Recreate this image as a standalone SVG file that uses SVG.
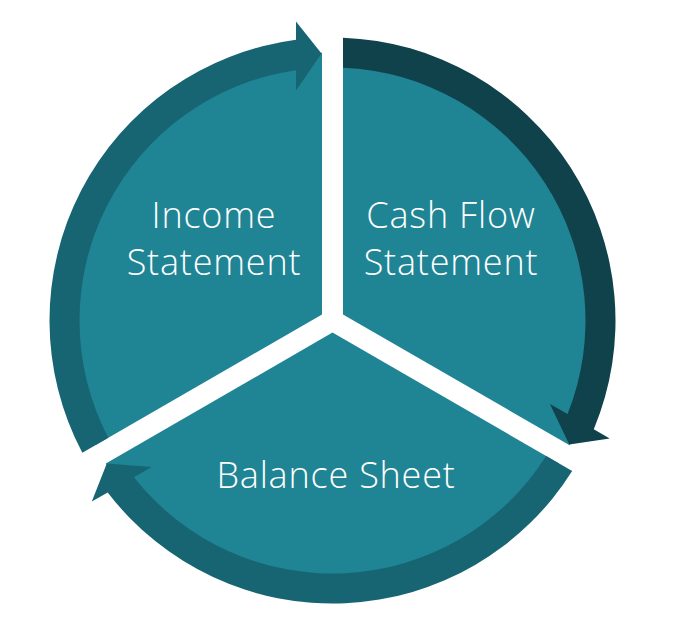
<svg xmlns="http://www.w3.org/2000/svg" width="683" height="632" viewBox="0 0 683 632">
  <style>
    .sector { fill: #1F8494; }
    .arrow-mid { fill: #176573; }
    .arrow-dark { fill: #10424C; }
    .label { font-family: "Open Sans", "Liberation Sans", sans-serif; font-weight: 300; font-size: 36px; letter-spacing: 0.8px; fill: #FFFFFF; text-anchor: middle; }
  </style>
  <defs>
    <path id="sector-shape" d="M -10.5 -6.062 L -237.167 124.804 A 268 268 0 0 1 -10.5 -267.794 Z"/>
    <path id="arrow-shape" d="M -250.166 132.309 A 283 283 0 0 1 -36.5 -280.637 L -36.5 -299 L -11 -267 L -36.5 -230 L -36.5 -250.353 A 253 253 0 0 0 -224.166 117.298 Z"/>
  </defs>
  <rect width="683" height="632" fill="#FFFFFF"/>
  <g id="income-statement">
    <use href="#sector-shape" class="sector" transform="translate(332.5 320.5)"/>
    <text class="label" x="214" y="228">Income</text>
    <text class="label" x="214" y="275">Statement</text>
  </g>
  <g id="cash-flow-statement">
    <use href="#sector-shape" class="sector" transform="translate(332.5 320.5) rotate(120)"/>
    <text class="label" x="451" y="228">Cash Flow</text>
    <text class="label" x="451" y="275">Statement</text>
  </g>
  <g id="balance-sheet">
    <use href="#sector-shape" class="sector" transform="translate(332.5 320.5) rotate(240)"/>
    <text class="label" x="336" y="488">Balance Sheet</text>
  </g>
  <g id="connectors">
    <use href="#arrow-shape" class="arrow-mid" transform="translate(332.5 320.5)"/>
    <use href="#arrow-shape" class="arrow-dark" transform="translate(332.5 320.5) rotate(120)"/>
    <use href="#arrow-shape" class="arrow-mid" transform="translate(332.5 320.5) rotate(240)"/>
  </g>
</svg>
